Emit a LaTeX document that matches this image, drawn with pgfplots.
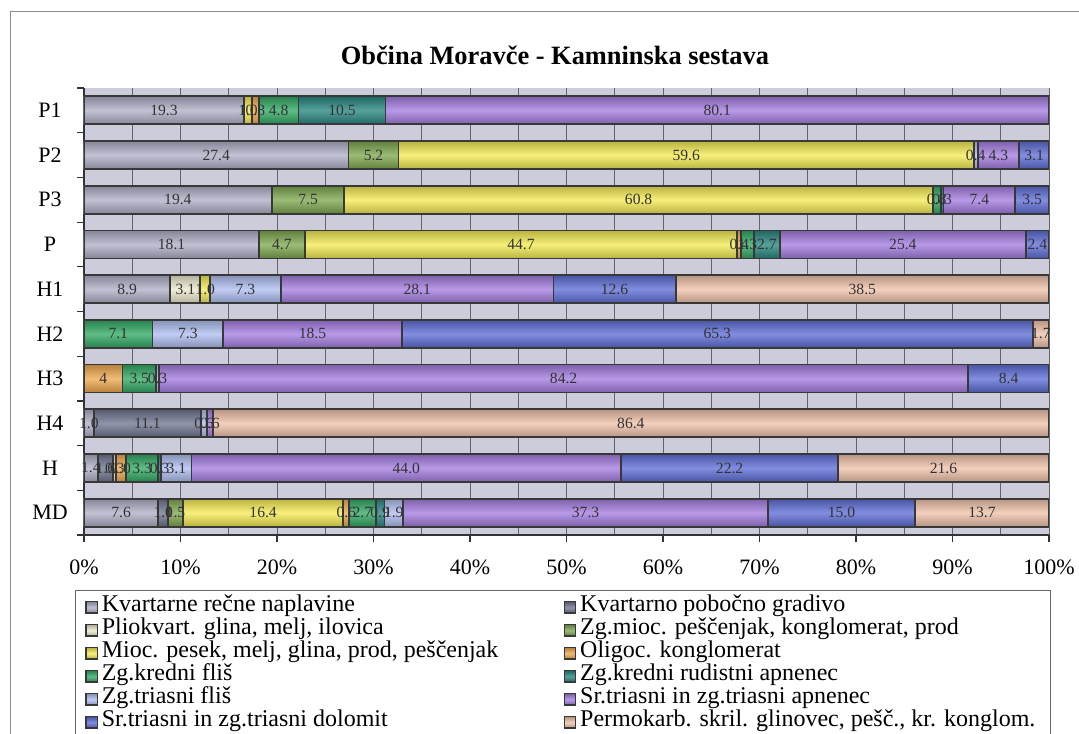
\documentclass[border=0pt]{standalone}
\usepackage{pgfplots}
\pgfplotsset{compat=1.18}
\usepackage{pgfplotstable}
\usepackage{fontspec}
\setmainfont{Liberation Serif}

\definecolor{plotbg}{RGB}{204,204,218}
\definecolor{gridc}{RGB}{100,100,108}
\definecolor{c1}{RGB}{176,176,200}
\definecolor{c2}{RGB}{112,118,145}
\definecolor{c3}{RGB}{236,232,205}
\definecolor{c4}{RGB}{128,168,80}
\definecolor{c5}{RGB}{245,235,85}
\definecolor{c6}{RGB}{240,170,80}
\definecolor{c7}{RGB}{50,170,100}
\definecolor{c8}{RGB}{40,135,130}
\definecolor{c9}{RGB}{175,190,240}
\definecolor{c10}{RGB}{165,125,225}
\definecolor{c11}{RGB}{95,110,215}
\definecolor{c12}{RGB}{240,195,170}

% raw values per profile, row = position from the bottom
\pgfplotstableread{
row  s1   s2   s3  s4  s5   s6  s7  s8   s9  s10  s11  s12
9    19.3 0    0   0   1.0  0.8 4.8 10.5 0   80.1 0    0
8    27.4 0    0   5.2 59.6 0   0   0    0.4 4.3  3.1  0
7    19.4 0    0   7.5 60.8 0   0.8 0.3  0   7.4  3.5  0
6    18.1 0    0   4.7 44.7 0.4 1.3 2.7  0   25.4 2.4  0
5    8.9  0    3.1 0   1.0  0   0   0    7.3 28.1 12.6 38.5
4    0    0    0   0   0    0   7.1 0    7.3 18.5 65.3 1.7
3    0    0    0   0   0    4   3.5 0    0.3 84.2 8.4  0
2    1.0  11.1 0   0   0    0   0   0    0.6 0.6  0    86.4
1    1.4  1.6  0.3 0   0    1.0 3.3 0.3  3.1 44.0 22.2 21.6
0    7.6  1.0  0   1.5 16.4 0.6 2.7 0.9  1.9 37.3 15.0 13.7
}\rocks
% running sums, e12 is the row total
\pgfplotstablecreatecol[create col/expr={\thisrow{s1}}]{e1}\rocks
\pgfplotstablecreatecol[create col/expr={\thisrow{e1}+\thisrow{s2}}]{e2}\rocks
\pgfplotstablecreatecol[create col/expr={\thisrow{e2}+\thisrow{s3}}]{e3}\rocks
\pgfplotstablecreatecol[create col/expr={\thisrow{e3}+\thisrow{s4}}]{e4}\rocks
\pgfplotstablecreatecol[create col/expr={\thisrow{e4}+\thisrow{s5}}]{e5}\rocks
\pgfplotstablecreatecol[create col/expr={\thisrow{e5}+\thisrow{s6}}]{e6}\rocks
\pgfplotstablecreatecol[create col/expr={\thisrow{e6}+\thisrow{s7}}]{e7}\rocks
\pgfplotstablecreatecol[create col/expr={\thisrow{e7}+\thisrow{s8}}]{e8}\rocks
\pgfplotstablecreatecol[create col/expr={\thisrow{e8}+\thisrow{s9}}]{e9}\rocks
\pgfplotstablecreatecol[create col/expr={\thisrow{e9}+\thisrow{s10}}]{e10}\rocks
\pgfplotstablecreatecol[create col/expr={\thisrow{e10}+\thisrow{s11}}]{e11}\rocks
\pgfplotstablecreatecol[create col/expr={\thisrow{e11}+\thisrow{s12}}]{e12}\rocks

\tikzset{seg/.style={top color=#1!76!black, bottom color=#1!76!black, middle color=#1!78!white,
    draw=black!78, line width=0.9pt}}

% one bar per plot (so the shading is per bar): series #1 in row #2, from 0 to its running sum;
% drawn from the last series to the first, the shorter bars cover the longer ones
\newcommand\barseg[2]{%
  \addplot[seg=c#1, xbar, bar width=14pt, bar shift=0pt, forget plot]
    table[x expr={\thisrow{row}==#2 ? 100*\thisrow{e#1}/\thisrow{e12} : nan}, y=row]{\rocks};}

\begin{document}
\begin{tikzpicture}
\useasboundingbox (-42pt,-99pt) rectangle (497.5pt,267.5pt);
\begin{axis}[
    scale only axis, width=482.5pt, height=223.5pt,
    xmin=0, xmax=100, ymin=-0.5, ymax=9.5,
    axis background/.style={fill=plotbg},
    axis x line*=bottom, axis y line*=left,
    axis line style={draw=black!80, line width=0.8pt},
    tick align=outside, major tick length=3.5pt, minor tick length=0pt,
    tick style={draw=black!80, line width=0.6pt},
    xtick={0,10,...,100}, minor x tick num=1,
    xticklabels={0\%,10\%,20\%,30\%,40\%,50\%,60\%,70\%,80\%,90\%,100\%},
    xmajorgrids, xminorgrids,
    major grid style={draw=gridc, line width=0.5pt},
    minor grid style={draw=gridc, line width=0.5pt},
    ytick={-0.5,0.5,...,9.5}, yticklabels={},
    extra y ticks={0,...,9},
    extra y tick labels={MD,H,H4,H3,H2,H1,P,P3,P2,P1},
    extra y tick style={major tick length=0pt},
    yticklabel style={anchor=center, xshift=-17pt, font=\fontsize{11}{12}\selectfont},
    xticklabel style={anchor=center, yshift=-12.5pt, font=\fontsize{11}{12}\selectfont},
    title={Občina Moravče - Kamninska sestava},
    title style={at={(0.488,1)}, anchor=center, yshift=10.5pt,
        font=\bfseries\fontsize{13.2}{15}\selectfont},
    legend columns=2,
    legend cell align=left,
    legend image code/.code={\draw[#1, line width=0.6pt] (0pt,-2.8pt) rectangle (5.6pt,2.8pt);},
    legend style={draw=none, fill=none, at={(0,0)}, anchor=north west,
        xshift=0.5pt, yshift=-30.25pt, inner sep=0pt, row sep=0pt, column sep=1pt,
        font=\fontsize{12}{12}\selectfont,
        nodes={inner xsep=1pt, inner ysep=0pt, text height=7.8pt, text depth=3.7pt}},
]
\addlegendimage{seg=c1}
\addlegendentry{\makebox[229pt][l]{Kvartarne rečne naplavine}}
\addlegendimage{seg=c2}
\addlegendentry{Kvartarno pobočno gradivo}
\addlegendimage{seg=c3}
\addlegendentry{\makebox[229pt][l]{Pliokvart. glina, melj, ilovica}}
\addlegendimage{seg=c4}
\addlegendentry{Zg.mioc. peščenjak, konglomerat, prod}
\addlegendimage{seg=c5}
\addlegendentry{\makebox[229pt][l]{Mioc. pesek, melj, glina, prod, peščenjak}}
\addlegendimage{seg=c6}
\addlegendentry{Oligoc. konglomerat}
\addlegendimage{seg=c7}
\addlegendentry{\makebox[229pt][l]{Zg.kredni fliš}}
\addlegendimage{seg=c8}
\addlegendentry{Zg.kredni rudistni apnenec}
\addlegendimage{seg=c9}
\addlegendentry{\makebox[229pt][l]{Zg.triasni fliš}}
\addlegendimage{seg=c10}
\addlegendentry{Sr.triasni in zg.triasni apnenec}
\addlegendimage{seg=c11}
\addlegendentry{\makebox[229pt][l]{Sr.triasni in zg.triasni dolomit}}
\addlegendimage{seg=c12}
\addlegendentry{Permokarb. skril. glinovec, pešč., kr. konglom.}

\pgfplotsinvokeforeach{0,...,9}{%
  \barseg{12}{#1}\barseg{11}{#1}\barseg{10}{#1}\barseg{9}{#1}%
  \barseg{8}{#1}\barseg{7}{#1}\barseg{6}{#1}\barseg{5}{#1}%
  \barseg{4}{#1}\barseg{3}{#1}\barseg{2}{#1}\barseg{1}{#1}%
}
\end{axis}

% value labels in the middle of every segment
\begin{axis}[
    scale only axis, width=482.5pt, height=223.5pt,
    xmin=0, xmax=100, ymin=-0.5, ymax=9.5,
    hide axis, clip=false,
]
\pgfplotsinvokeforeach{1,...,12}{
\addplot[draw=none, mark=none, nodes near coords, point meta=explicit symbolic,
    every node near coord/.append style={anchor=center, text=black!80,
        font=\fontsize{7.8}{8}\selectfont}]
    table[x expr={\thisrow{s#1}==0 ? nan : 100*(\thisrow{e#1}-0.5*\thisrow{s#1})/\thisrow{e12}},
        y=row, meta=s#1]{\rocks};
}
\end{axis}

\draw[black!45, line width=0.5pt] (-36.5pt,-130pt) rectangle (530pt,261.5pt);
\draw[black!60, line width=0.5pt] (-4.5pt,-27.5pt) rectangle (483pt,-130pt);
\end{tikzpicture}
\end{document}
